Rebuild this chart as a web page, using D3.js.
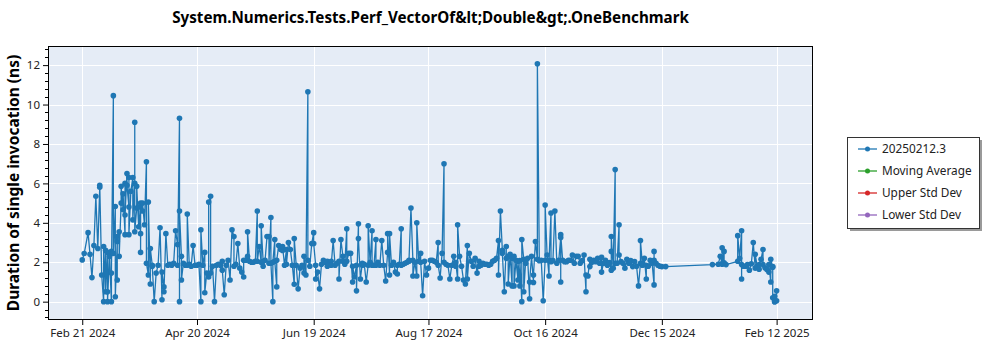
<!DOCTYPE html>
<html>
<head>
<meta charset="utf-8">
<script src="https://cdn.jsdelivr.net/npm/d3@7"></script>
<style>
  html, body { margin: 0; padding: 0; background: #ffffff; }
  svg { display: block; }
</style>
</head>
<body>
<svg id="chart" width="1000" height="350"></svg>
<script>
// Benchmark runs: date of each run and its measured duration (ns).
const runDates = [
  "2024-02-21","2024-02-22","2024-02-24","2024-02-25","2024-02-26","2024-02-27","2024-02-28","2024-02-29",
  "2024-03-01","2024-03-01","2024-03-02","2024-03-03","2024-03-03","2024-03-04","2024-03-04","2024-03-05","2024-03-05","2024-03-05",
  "2024-03-06","2024-03-06","2024-03-07","2024-03-07","2024-03-07","2024-03-08","2024-03-08","2024-03-09","2024-03-09","2024-03-10",
  "2024-03-10","2024-03-10","2024-03-11","2024-03-11","2024-03-12","2024-03-12","2024-03-13","2024-03-13","2024-03-14","2024-03-14",
  "2024-03-14","2024-03-15","2024-03-15","2024-03-16","2024-03-16","2024-03-16","2024-03-17","2024-03-18","2024-03-18","2024-03-19",
  "2024-03-19","2024-03-19","2024-03-20","2024-03-20","2024-03-21","2024-03-21","2024-03-22","2024-03-22","2024-03-22","2024-03-23",
  "2024-03-23","2024-03-24","2024-03-25","2024-03-25","2024-03-26","2024-03-26","2024-03-27","2024-03-27","2024-03-28","2024-03-28",
  "2024-03-29","2024-03-30","2024-03-31",
  "2024-04-01","2024-04-02","2024-04-02","2024-04-03","2024-04-03","2024-04-04","2024-04-05","2024-04-06","2024-04-07","2024-04-08",
  "2024-04-09","2024-04-10","2024-04-10","2024-04-11","2024-04-11","2024-04-11","2024-04-12","2024-04-12","2024-04-13","2024-04-14",
  "2024-04-15","2024-04-15","2024-04-16","2024-04-17","2024-04-18","2024-04-19","2024-04-20","2024-04-21","2024-04-22","2024-04-22",
  "2024-04-23","2024-04-24","2024-04-24","2024-04-25","2024-04-26","2024-04-26","2024-04-27","2024-04-27","2024-04-28","2024-04-29",
  "2024-04-30",
  "2024-05-01","2024-05-02","2024-05-03","2024-05-03","2024-05-04","2024-05-05","2024-05-06","2024-05-07","2024-05-08","2024-05-09",
  "2024-05-09","2024-05-10","2024-05-11","2024-05-12","2024-05-13","2024-05-14","2024-05-14","2024-05-15","2024-05-16","2024-05-16",
  "2024-05-17","2024-05-18","2024-05-19","2024-05-20","2024-05-21","2024-05-21","2024-05-22","2024-05-23","2024-05-23","2024-05-24",
  "2024-05-24","2024-05-25","2024-05-26","2024-05-27","2024-05-27","2024-05-28","2024-05-28","2024-05-29","2024-05-29","2024-05-30",
  "2024-05-30","2024-05-31","2024-05-31",
  "2024-06-01","2024-06-02","2024-06-03","2024-06-03","2024-06-04","2024-06-05","2024-06-05","2024-06-06","2024-06-07","2024-06-08",
  "2024-06-09","2024-06-09","2024-06-10","2024-06-11","2024-06-12","2024-06-13","2024-06-14","2024-06-14","2024-06-15","2024-06-16",
  "2024-06-16","2024-06-17","2024-06-18","2024-06-19","2024-06-19","2024-06-20","2024-06-20","2024-06-21","2024-06-22","2024-06-23",
  "2024-06-24","2024-06-25","2024-06-26","2024-06-26","2024-06-27","2024-06-28","2024-06-28","2024-06-29","2024-06-30",
  "2024-07-01","2024-07-02","2024-07-02","2024-07-03","2024-07-04","2024-07-04","2024-07-05","2024-07-06","2024-07-06","2024-07-07",
  "2024-07-08","2024-07-09","2024-07-09","2024-07-10","2024-07-11","2024-07-11","2024-07-12","2024-07-12","2024-07-13","2024-07-14",
  "2024-07-14","2024-07-15","2024-07-16","2024-07-17","2024-07-17","2024-07-18","2024-07-19","2024-07-19","2024-07-20","2024-07-21",
  "2024-07-21","2024-07-22","2024-07-23","2024-07-24","2024-07-25","2024-07-26","2024-07-27","2024-07-27","2024-07-28","2024-07-28",
  "2024-07-29","2024-07-30","2024-07-31",
  "2024-08-01","2024-08-01","2024-08-02","2024-08-03","2024-08-03","2024-08-04","2024-08-05","2024-08-06","2024-08-07","2024-08-07",
  "2024-08-08","2024-08-09","2024-08-09","2024-08-10","2024-08-11","2024-08-11","2024-08-12","2024-08-13","2024-08-13","2024-08-14",
  "2024-08-15","2024-08-16","2024-08-17","2024-08-18","2024-08-19","2024-08-20","2024-08-21","2024-08-22","2024-08-22","2024-08-23",
  "2024-08-24","2024-08-25","2024-08-25","2024-08-26","2024-08-27","2024-08-28","2024-08-29","2024-08-30","2024-08-31","2024-08-31",
  "2024-09-01","2024-09-01","2024-09-02","2024-09-03","2024-09-04","2024-09-05","2024-09-06","2024-09-06","2024-09-07","2024-09-08",
  "2024-09-09","2024-09-10","2024-09-11","2024-09-12","2024-09-12","2024-09-13","2024-09-14","2024-09-15","2024-09-16","2024-09-17",
  "2024-09-18","2024-09-19","2024-09-20","2024-09-21","2024-09-22","2024-09-22","2024-09-23","2024-09-24","2024-09-24","2024-09-25",
  "2024-09-26","2024-09-26","2024-09-27","2024-09-27","2024-09-28","2024-09-29","2024-09-29","2024-09-30","2024-09-30",
  "2024-10-01","2024-10-02","2024-10-02","2024-10-03","2024-10-03","2024-10-04","2024-10-04","2024-10-05","2024-10-05","2024-10-06",
  "2024-10-06","2024-10-07","2024-10-08","2024-10-08","2024-10-09","2024-10-10","2024-10-10","2024-10-11","2024-10-12","2024-10-12",
  "2024-10-13","2024-10-14","2024-10-15","2024-10-16","2024-10-16","2024-10-17","2024-10-18","2024-10-18","2024-10-19","2024-10-19",
  "2024-10-20","2024-10-21","2024-10-22","2024-10-23","2024-10-24","2024-10-24","2024-10-24","2024-10-25","2024-10-26","2024-10-27",
  "2024-10-28","2024-10-29","2024-10-30","2024-10-31",
  "2024-11-01","2024-11-02","2024-11-03","2024-11-04","2024-11-05","2024-11-06","2024-11-06","2024-11-07","2024-11-08","2024-11-08",
  "2024-11-09","2024-11-10","2024-11-11","2024-11-12","2024-11-13","2024-11-14","2024-11-14","2024-11-15","2024-11-16","2024-11-17",
  "2024-11-18","2024-11-19","2024-11-19","2024-11-19","2024-11-20","2024-11-21","2024-11-21","2024-11-22","2024-11-23","2024-11-23",
  "2024-11-24","2024-11-25","2024-11-26","2024-11-27","2024-11-28","2024-11-29","2024-11-30",
  "2024-12-01","2024-12-02","2024-12-03","2024-12-04","2024-12-04","2024-12-05","2024-12-05","2024-12-06","2024-12-07","2024-12-07",
  "2024-12-08","2024-12-09","2024-12-10","2024-12-11","2024-12-11","2024-12-11","2024-12-12","2024-12-13","2024-12-14","2024-12-15",
  "2024-12-17",
  "2025-01-10","2025-01-13","2025-01-14","2025-01-15","2025-01-15","2025-01-15","2025-01-16","2025-01-16","2025-01-17","2025-01-23",
  "2025-01-23","2025-01-24","2025-01-25","2025-01-25","2025-01-25","2025-01-26","2025-01-27","2025-01-28","2025-01-29","2025-01-30",
  "2025-01-31",
  "2025-02-01","2025-02-01","2025-02-02","2025-02-03","2025-02-03","2025-02-04","2025-02-05","2025-02-05","2025-02-06","2025-02-07",
  "2025-02-08","2025-02-08","2025-02-09","2025-02-09","2025-02-10","2025-02-10","2025-02-10","2025-02-11","2025-02-11","2025-02-11",
  "2025-02-12","2025-02-12"
];

const durations = [
  2.12,2.44,3.5,2.4,1.22,2.85,5.35,2.7,
  5.8,5.9,1.35,0,2.8,0.5,2.6,0.5,2.5,0,
  2.45,2.3,0,2.55,1.45,10.45,2.45,4.83,0.25,3.05,
  1.1,3.3,3.55,2.3,5.0,5.85,4.66,5.47,3.4,6.0,
  4.4,6.5,5.9,4.8,6.3,3.4,5.6,6.3,4.15,6.0,
  9.1,3.55,4.75,5.85,3.8,4.8,3.45,2.5,5.0,4.6,
  5.0,3.9,7.1,1.95,1.35,5.05,0.9,2.7,1.85,1.8,
  0,1.45,1.85,
  3.75,0.1,1.5,0.75,0.5,3.45,1.85,1.9,1.85,1.95,
  3.6,2.9,1.85,9.3,0,4.6,2.3,1.1,1.95,1.85,
  1.85,4.45,1.9,1.8,2.85,1.85,1.85,1.9,0,3.65,
  1.85,2.5,0.45,1.45,1.25,5.05,5.35,1.45,1.8,0,
  1.85,
  1.9,1.85,2.05,1.6,0.35,1.85,2.1,1.1,3.65,3.3,
  1.8,1.9,2.95,1.7,1.5,1.25,2.1,2.1,2.3,3.55,
  2.05,2.0,2.0,2.05,4.6,2.05,2.8,2.0,3.85,2.05,
  1.8,2.1,3.3,3.3,1.95,4.27,1.95,0,2.0,3.15,
  2.05,0.75,2.1,
  2.85,2.65,2.6,2.8,1.85,2.65,1.9,3.0,2.65,1.85,
  0.88,3.2,1.85,0.65,1.7,1.85,1.45,2.3,1.35,10.65,
  2.1,1.8,2.95,3.5,2.95,1.85,1.15,1.5,0.65,1.9,
  2.1,2.0,1.8,2.05,1.9,2.05,1.85,3.1,1.85,
  1.95,2.05,1.15,3.15,2.3,2.05,1.9,3.7,2.05,2.45,
  2.45,1.0,1.8,1.25,1.85,0.55,3.95,3.2,1.15,1.95,
  1.85,1.9,1.0,1.85,3.85,2.0,3.6,1.85,1.85,3.15,
  1.85,2.0,1.85,3.1,1.85,1.05,2.5,3.45,1.35,3.45,
  1.85,2.0,1.5,
  1.4,1.85,1.9,3.7,1.85,1.9,1.95,2.0,2.05,2.1,
  4.75,2.1,1.3,2.0,1.3,4.0,2.05,2.45,2.0,0.3,
  2.05,1.35,1.7,2.1,2.1,2.05,2.0,3.0,1.85,1.2,
  2.45,7.0,2.0,1.9,1.85,1.15,1.85,2.3,1.8,2.0,
  1.15,3.9,2.3,1.8,1.1,0.9,2.85,1.15,2.45,2.05,
  1.8,2.2,1.45,2.05,1.8,1.85,1.95,1.9,1.9,1.85,
  1.9,2.05,2.1,2.2,3.1,1.35,4.6,2.6,2.45,0.5,
  2.8,2.2,2.3,0.9,2.4,0.8,2.2,2.3,0.8,
  2.1,1.1,2.05,0.8,2.08,0,3.15,2.15,0.5,2.1,
  1.95,2.2,0.15,1.0,2.3,0.97,1.35,3.05,2.15,12.07,
  2.08,2.1,0.05,2.1,4.9,2.37,1.3,2.1,4.5,2.03,
  2.08,4.6,1.95,2.1,3.25,1.0,3.4,2.1,2.03,2.03,
  2.1,2.1,2.37,1.95,
  2.3,2.3,1.95,2.08,2.37,0.5,1.35,1.3,2.15,1.78,
  2.0,2.1,2.03,2.2,1.95,2.25,1.5,1.95,2.1,1.85,
  1.98,1.6,2.55,3.3,1.7,6.7,1.95,1.95,3.9,2.37,
  2.03,1.95,1.7,2.15,1.95,2.08,1.78,
  2.03,1.8,0.8,1.95,3.1,1.85,1.95,2.2,1.15,1.85,
  1.8,2.1,1.95,0.85,2.55,2.1,1.95,1.85,1.8,1.78,
  1.78,
  1.88,1.9,2.3,1.93,2.73,1.9,2.55,1.97,1.88,2.05,
  3.35,2.2,3.6,1.15,1.88,1.8,1.8,1.88,1.6,1.92,
  3.0,
  1.7,2.4,1.8,1.65,1.88,2.15,2.65,1.88,1.72,1.63,
  1.5,1.88,1.0,2.15,1.75,1.78,0.2,0,0.27,0,
  0.05,0.55
];

const xTickDates = ["2024-02-21","2024-04-20","2024-06-19","2024-08-17","2024-10-16","2024-12-15","2025-02-12"];
const yTicks = [0, 2, 4, 6, 8, 10, 12];
const legendLabels = ["20250212.3", "Moving Average", "Upper Std Dev", "Lower Std Dev"];
const legendColors = ["#1f77b4", "#2ca02c", "#d62728", "#9467bd"];
const chartTitle = "System.Numerics.Tests.Perf_VectorOf&lt;Double&gt;.OneBenchmark";
const yAxisTitle = "Duration of single invocation (ns)";

const parseDay = d3.timeParse("%Y-%m-%d");
const fmtTick = d3.timeFormat("%b %d %Y");
const n = Math.min(runDates.length, durations.length);
const runs = d3.range(n).map(i => ({ date: parseDay(runDates[i]), value: durations[i] }));

const plot = { left: 48, right: 813, top: 46, bottom: 320 };
const font = "'Noto Sans', 'Open Sans', sans-serif";

const svg = d3.select("#chart");

const x = d3.scaleTime()
  .domain([new Date(2024, 1, 3, 9, 30), new Date(2025, 2, 2, 17, 0)])
  .range([plot.left, plot.right]);
const y = d3.scaleLinear()
  .domain([-0.93, 12.97])
  .range([plot.bottom, plot.top]);

// plot background
svg.append("rect")
  .attr("x", plot.left).attr("y", plot.top)
  .attr("width", plot.right - plot.left).attr("height", plot.bottom - plot.top)
  .attr("fill", "#e5ecf6");

// grid
const grid = svg.append("g").attr("stroke", "#ffffff").attr("stroke-width", 1);
grid.selectAll("line.gy").data(yTicks).join("line")
  .attr("class", "gy")
  .attr("x1", plot.left).attr("x2", plot.right)
  .attr("y1", d => Math.round(y(d)) + 0.5).attr("y2", d => Math.round(y(d)) + 0.5);
grid.selectAll("line.gx").data(xTickDates.map(parseDay)).join("line")
  .attr("class", "gx")
  .attr("y1", plot.top).attr("y2", plot.bottom)
  .attr("x1", d => Math.round(x(d)) + 0.5).attr("x2", d => Math.round(x(d)) + 0.5);

// series
svg.append("clipPath").attr("id", "plot-clip")
  .append("rect")
  .attr("x", plot.left).attr("y", plot.top)
  .attr("width", plot.right - plot.left).attr("height", plot.bottom - plot.top);

const series = svg.append("g").attr("clip-path", "url(#plot-clip)");
const line = d3.line().x(d => x(d.date)).y(d => y(d.value));
series.append("path")
  .datum(runs)
  .attr("d", line)
  .attr("fill", "none")
  .attr("stroke", "#1f77b4")
  .attr("stroke-width", 1.3)
  .attr("stroke-linejoin", "round");
series.selectAll("circle").data(runs).join("circle")
  .attr("cx", d => x(d.date))
  .attr("cy", d => y(d.value))
  .attr("r", 2.8)
  .attr("fill", "#1f77b4");

// frame
svg.append("rect")
  .attr("x", plot.left + 0.5).attr("y", plot.top + 0.5)
  .attr("width", plot.right - plot.left - 1).attr("height", plot.bottom - plot.top - 1)
  .attr("fill", "none").attr("stroke", "#000").attr("stroke-width", 1);

// y axis
const yAxis = d3.axisLeft(y).tickValues(yTicks).tickSize(5).tickPadding(3).tickFormat(d3.format("d"));
const yAxisG = svg.append("g").attr("transform", `translate(${plot.left},0)`).call(yAxis);
yAxisG.select(".domain").remove();
yAxisG.selectAll("text").attr("font-family", font).attr("font-size", 11.5).attr("fill", "#222");
const minorY = d3.range(-0.8, 12.9, 0.4).filter(v => Math.abs(v / 2 - Math.round(v / 2)) > 0.01);
svg.append("g").selectAll("line").data(minorY).join("line")
  .attr("x1", plot.left - 3).attr("x2", plot.left)
  .attr("y1", d => Math.round(y(d)) + 0.5).attr("y2", d => Math.round(y(d)) + 0.5)
  .attr("stroke", "#000");

// x axis
const xAxis = d3.axisBottom(x).tickValues(xTickDates.map(parseDay)).tickSize(5).tickPadding(4).tickFormat(fmtTick);
const xAxisG = svg.append("g").attr("transform", `translate(0,${plot.bottom})`).call(xAxis);
xAxisG.select(".domain").remove();
xAxisG.selectAll("text").attr("font-family", font).attr("font-size", 11.5).attr("fill", "#222");

// titles
svg.append("text")
  .attr("x", (plot.left + plot.right) / 2).attr("y", 23)
  .attr("text-anchor", "middle")
  .attr("font-family", font).attr("font-weight", "bold").attr("font-size", 15.2)
  .attr("fill", "#000")
  .text(chartTitle);
svg.append("text")
  .attr("transform", `translate(19,${(plot.top + plot.bottom) / 2}) rotate(-90)`)
  .attr("text-anchor", "middle")
  .attr("font-family", font).attr("font-weight", "bold").attr("font-size", 15.5)
  .attr("fill", "#000")
  .text(yAxisTitle);

// legend
const lg = { x: 847, y: 137, w: 132, h: 91, row: 22 };
svg.append("rect")
  .attr("x", lg.x + 3).attr("y", lg.y + 3).attr("width", lg.w).attr("height", lg.h)
  .attr("fill", "#9a9a9a");
svg.append("rect")
  .attr("x", lg.x + 0.5).attr("y", lg.y + 0.5).attr("width", lg.w).attr("height", lg.h)
  .attr("fill", "#ffffff").attr("stroke", "#333").attr("stroke-width", 1);
const items = svg.append("g").selectAll("g").data(legendLabels).join("g")
  .attr("transform", (d, i) => `translate(${lg.x},${lg.y + 12 + i * lg.row})`);
items.append("line")
  .attr("x1", 11).attr("x2", 30).attr("y1", 0).attr("y2", 0)
  .attr("stroke", (d, i) => legendColors[i]).attr("stroke-width", 1.3);
items.append("circle")
  .attr("cx", 20.5).attr("cy", 0).attr("r", 2.5)
  .attr("fill", (d, i) => legendColors[i]);
items.append("text")
  .attr("x", 35).attr("y", 0).attr("dy", "0.35em")
  .attr("font-family", font).attr("font-size", 11.8).attr("fill", "#222")
  .text(d => d);
</script>
</body>
</html>
